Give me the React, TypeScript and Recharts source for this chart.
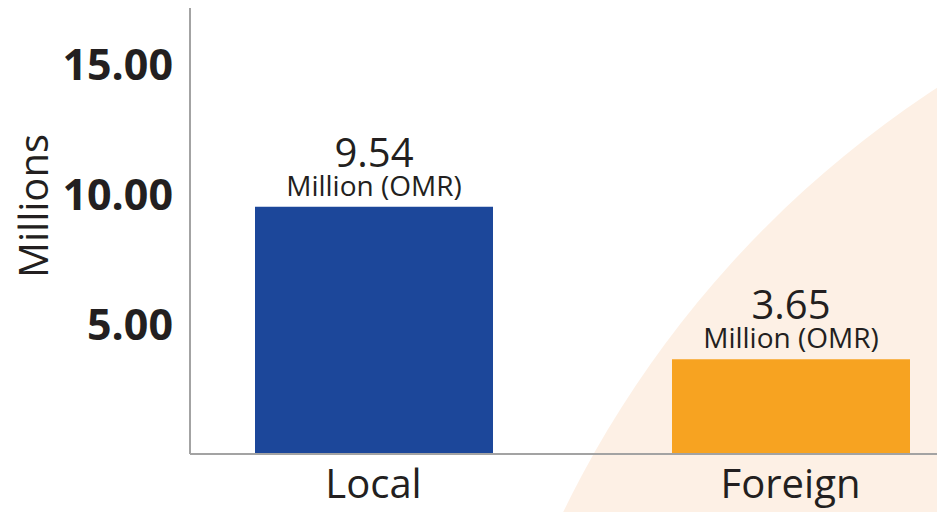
import React from 'react';
import { BarChart, Bar, XAxis, YAxis, Cell, LabelList } from 'recharts';

const categories = ['Local', 'Foreign'];
const values = [9.54, 3.65];
const yTicks = [5, 10, 15];
const unitLabel = 'Million (OMR)';
const axisTitle = 'Millions';

const BAR_COLORS = ['#1c479a', '#f7a321'];
const TEXT = '#231f20';
const AXIS = '#a3a3a3';
const FONT = '"Open Sans", sans-serif';

const data = categories.map((name, i) => ({ name, value: values[i] }));

const ValueLabel = (props: any) => {
  const { x, y, width, value } = props;
  const cx = x + width / 2;
  return (
    <g>
      <text x={cx} y={y - 40} textAnchor="middle" fill={TEXT} fontSize={40} fontFamily={FONT}>
        {Number(value).toFixed(2)}
      </text>
      <text x={cx} y={y - 11} textAnchor="middle" fill={TEXT} fontSize={28} fontFamily={FONT}>
        {unitLabel}
      </text>
    </g>
  );
};

const AxisTitle = (props: any) => {
  const { viewBox } = props;
  const x = viewBox.x + 40;
  const y = viewBox.y + viewBox.height / 2 - 25;
  return (
    <text
      x={x}
      y={y}
      transform={`rotate(-90, ${x}, ${y})`}
      textAnchor="middle"
      fill={TEXT}
      fontSize={40}
      fontFamily={FONT}
    >
      {axisTitle}
    </text>
  );
};

const App = () => {
  return (
    <div style={{ position: 'relative', width: 937, height: 504, overflow: 'hidden' }}>
      {/* soft peach backdrop circle */}
      <div
        style={{
          position: 'absolute',
          left: 449,
          top: -92,
          width: 2116,
          height: 2116,
          borderRadius: '50%',
          background: '#fdf0e5',
        }}
      />
      <div style={{ position: 'absolute', left: 0, top: 0 }}>
        <BarChart width={937} height={504} data={data} margin={{ top: 0, right: 0, bottom: 0, left: 0 }}>
          <XAxis
            dataKey="name"
            height={58}
            padding={{ left: -25, right: -54 }}
            axisLine={{ stroke: AXIS, strokeWidth: 2 }}
            tickLine={false}
            tickSize={0}
            tickMargin={16}
            tick={{ fill: TEXT, fontSize: 40, fontFamily: FONT }}
          />
          <YAxis
            width={182}
            domain={[0, 17.2]}
            ticks={yTicks}
            tickFormatter={(v) => Number(v).toFixed(2)}
            axisLine={{ stroke: AXIS, strokeWidth: 2 }}
            tickLine={false}
            tickSize={0}
            tickMargin={17}
            tick={{ fill: TEXT, fontSize: 43, fontWeight: 700, fontFamily: FONT }}
            label={<AxisTitle />}
          />
          <Bar dataKey="value" barSize={238} isAnimationActive={false}>
            {data.map((d, i) => (
              <Cell key={d.name} fill={BAR_COLORS[i]} />
            ))}
            <LabelList dataKey="value" content={<ValueLabel />} />
          </Bar>
        </BarChart>
      </div>
    </div>
  );
};

export default App;
